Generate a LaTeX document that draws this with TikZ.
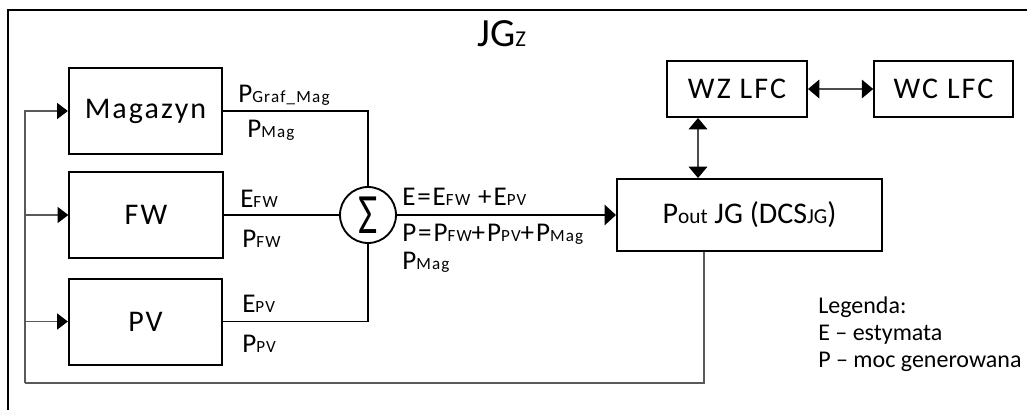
\documentclass[tikz,border=0pt]{standalone}
\usepackage{fontspec}
\setmainfont{Carlito}
\newfontfamily\spaced[LetterSpace=7]{Carlito}
\usetikzlibrary{arrows.meta,calc}
\newcommand\fsz[2]{{\fontsize{#1}{#1}\selectfont #2}}
\newcommand\ls[1]{\fsz{12.8}{#1}}
\begin{document}
\begin{tikzpicture}[x=0.75pt,y=-0.75pt,
  srcbox/.style={draw,line width=1.5pt,inner sep=0pt,minimum width=115pt,minimum height=64.5pt,font=\spaced\fontsize{22.5}{22.5}\selectfont},
  ctlbox/.style={draw,line width=1.5pt,inner sep=0pt,font=\spaced\fontsize{22.5}{22.5}\selectfont},
  lbl/.style={anchor=base west,inner sep=0pt,font=\spaced\fontsize{20.3}{20.3}\selectfont},
  leg/.style={anchor=base west,inner sep=0pt,font=\fontsize{18}{18}\selectfont},
  conn/.style={line width=0.9pt},
  fb/.style={line width=0.8pt,black!65},
  mainarr/.style={line width=2pt,-{Triangle[length=8.5pt,width=15pt]}},
  dbl/.style={line width=0.9pt,black!70,{Triangle[length=8.5pt,width=14pt,color=black]}-{Triangle[length=8.5pt,width=14pt,color=black]}},
  fbtip/.style={-{Triangle[length=8pt,width=12pt,color=black]}}
]
\useasboundingbox (0,0) rectangle (1027,410);
% frame (cut by the picture's edges)
\draw[line width=1.5pt] (8,430) -- (8,10) -- (1040,10);
\node[anchor=base west,inner sep=0pt] (title) at (477,47) {\fontsize{30}{30}\selectfont JG\fsz{17}{Z}};

% boxes
\node[srcbox] (mag) at (145.5,111) {Magazyn};
\node[srcbox] (fw) at (146,215) {FW};
\node[srcbox] (pv) at (145.5,321.5) {PV};
\node[draw,circle,line width=1.4pt,minimum size=42pt,inner sep=0pt] (sum) at (368,215) {\scalebox{1.4}[1.9]{\fontsize{22.5}{22.5}\selectfont Σ}};
\node[draw,line width=1.5pt,inner sep=0pt,font=\fontsize{22.5}{22.5}\selectfont,minimum width=198.75pt,minimum height=54pt] (pout) at (749.5,215) {P\fsz{16}{out} JG (DCS\fsz{16}{JG})};
\node[ctlbox,minimum width=105pt,minimum height=42pt] (wz) at (737,89) {WZ LFC};
\node[ctlbox,minimum width=104pt,minimum height=41.5pt] (wc) at (943.5,89) {WC LFC};

% connectors
\coordinate (fbl) at (25,383);
\coordinate (vx) at (698,0);
\coordinate (fx) at (704,0);
\draw[conn] (mag.east) -| (sum.north);
\draw[conn] (fw.east) -- (sum.west);
\draw[conn] (pv.east) -| (sum.south);
\draw[mainarr] (sum.east) -- (pout.west);
\draw[dbl] (wz.east) -- (wc.west);
\draw[dbl] (wz.south -| vx) -- (pout.north -| vx);
\draw[fb] (pout.south -| fx) |- (fbl);
\draw[fb,fbtip] (fbl) |- (mag.west);
\draw[fb,fbtip] (fbl |- fw.west) -- (fw.west);
\draw[fb,fbtip] (fbl |- pv.west) -- (pv.west);

% labels
\node[lbl] (lgm) at (238,103) {P\ls{Graf\_Mag}};
\node[lbl] (lpm) at (247,137) {P\ls{Mag}};
\node[lbl] (lefw) at (240,207) {E\ls{FW}};
\node[lbl] (lpfw) at (242,247) {P\ls{FW}};
\node[lbl] (lepv) at (242,312) {E\ls{PV}};
\node[lbl] (lppv) at (242,352) {P\ls{PV}};
\node[lbl] (le) at (402,205) {E=E\ls{FW} +E\ls{PV}};
\node[lbl] (lp) at (402,241) {P=P\ls{FW}+P\ls{PV}+P\ls{Mag}};
\node[lbl] (lpm2) at (402,269) {P\ls{Mag}};

% legend
\node[leg] (leg1) at (818,313) {Legenda:};
\node[leg] (leg2) at (818,340) {E – estymata};
\node[leg] (leg3) at (818,367) {P – moc generowana};
\end{tikzpicture}
\end{document}
